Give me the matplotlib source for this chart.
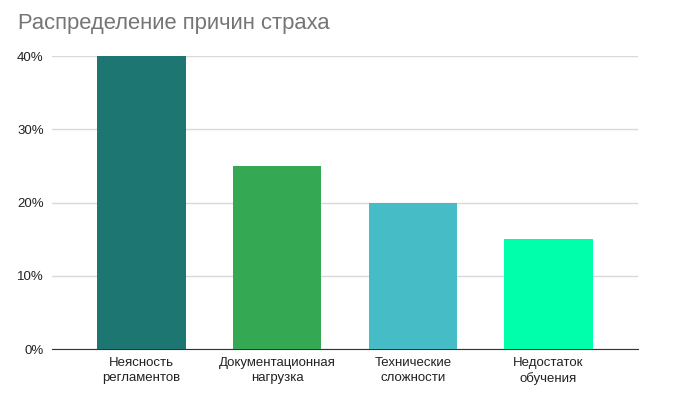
import matplotlib
matplotlib.use('Agg')
import matplotlib.pyplot as plt
from matplotlib.ticker import PercentFormatter

categories = ['Неясность\nрегламентов', 'Документационная\nнагрузка', 'Технические\nсложности', 'Недостаток\nобучения']
values = [0.40, 0.25, 0.20, 0.15]
colors = ['#1e7672', '#34a853', '#46bdc6', '#00ffab']
y_ticks = [0, 0.1, 0.2, 0.3, 0.4]

plt.rcParams['font.family'] = ['Liberation Sans', 'DejaVu Sans']

fig = plt.figure(figsize=(6.79, 3.99), dpi=100)
ax = fig.add_axes([0.0766, 0.1253, 0.863, 0.7343])

x = range(len(categories))
ax.bar(x, values, width=0.65, color=colors, zorder=3)

ax.set_xlim(-0.66, 3.66)
ax.set_ylim(0, 0.4)
ax.set_yticks(y_ticks)
ax.yaxis.set_major_formatter(PercentFormatter(1.0, decimals=0))
ax.set_xticks(list(x))
ax.set_xticklabels(categories, fontsize=9.5, color='#222222', linespacing=1.3)

ax.yaxis.grid(True, color='#d9d9d9', linewidth=1, zorder=0)
for s in ['top', 'right', 'left']:
    ax.spines[s].set_visible(False)
ax.spines['bottom'].set_color('#333333')
ax.tick_params(axis='both', length=0, labelsize=9.5, colors='#222222')
ax.tick_params(axis='y', pad=6)
ax.tick_params(axis='x', pad=6)

fig.text(0.026, 0.94, 'Распределение причин страха', fontsize=15.8, color='#757575', va='center')

fig.savefig('out.png', dpi=100)
